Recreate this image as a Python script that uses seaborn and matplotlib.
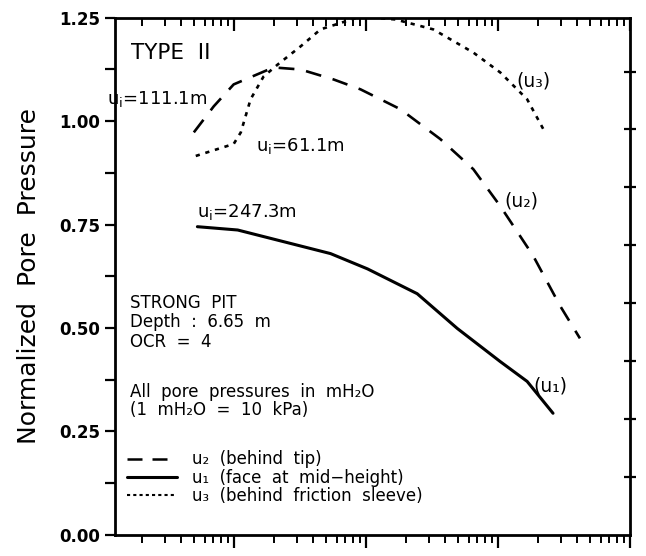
import numpy as np
import pandas as pd
import matplotlib
matplotlib.use("Agg")
import matplotlib.pyplot as plt
import seaborn as sns
from matplotlib.lines import Line2D
from matplotlib.ticker import LogLocator, NullFormatter, MultipleLocator, FixedLocator

sns.set_style("ticks")
plt.rcParams['font.family'] = ['DejaVu Sans']
plt.rcParams['mathtext.default'] = 'regular'
for k in ["text.color", "axes.labelcolor", "xtick.color", "ytick.color", "axes.edgecolor"]:
    plt.rcParams[k] = "black"

# ---- data ----
u1_x = [5.3, 10.7, 54, 103, 245, 493, 1042, 1667, 2618]
u1_y = [0.745, 0.737, 0.680, 0.643, 0.583, 0.499, 0.419, 0.371, 0.294]

u2_x = [4.98, 7.05, 9.98, 20.0, 32.1, 56.9, 91.2, 182.8, 366, 652, 1042, 1849, 2958, 4188]
u2_y = [0.973, 1.036, 1.089, 1.130, 1.125, 1.101, 1.077, 1.029, 0.957, 0.884, 0.795, 0.675, 0.554, 0.475]

u3_x = [5.15, 9.98, 11.3, 13.4, 16.8, 21.5, 32.1, 45.4, 91.2, 167.5, 324, 652, 1042, 1667, 2280]
u3_y = [0.916, 0.945, 0.973, 1.053, 1.108, 1.137, 1.181, 1.222, 1.253, 1.246, 1.222, 1.166, 1.118, 1.053, 0.973]

y_ticks = [0.00, 0.25, 0.50, 0.75, 1.00, 1.25]
y_tick_labels = ["0.00", "0.25", "0.50", "0.75", "1.00", "1.25"]
legend_labels = ["u₂  (behind  tip)", "u₁  (face  at  mid\u2212height)", "u₃  (behind  friction  sleeve)"]

df = pd.concat([
    pd.DataFrame({"x": u1_x, "y": u1_y, "s": "u1"}),
    pd.DataFrame({"x": u2_x, "y": u2_y, "s": "u2"}),
    pd.DataFrame({"x": u3_x, "y": u3_y, "s": "u3"}),
])

fig = plt.figure(figsize=(6.46, 5.56), dpi=100)
ax = fig.add_axes([0.178, 0.038, 0.797, 0.930])

styles = {"u1": dict(linestyle="-", linewidth=2.2),
          "u2": dict(linestyle=(0, (6, 4.5)), linewidth=1.9),
          "u3": dict(linestyle=(0, (1.6, 2.2)), linewidth=1.9)}
for s, sub in df.groupby("s"):
    sns.lineplot(data=sub, x="x", y="y", ax=ax, color="black", estimator=None,
                 legend=False, **styles[s])

ax.set_xscale("log")
ax.set_xlim(10 ** 0.1, 1e4)
ax.set_ylim(0, 1.25)
ax.set_xlabel("")
ax.set_ylabel("Normalized  Pore  Pressure", fontsize=18, labelpad=13)

for sp in ax.spines.values():
    sp.set_linewidth(2.0)
    sp.set_visible(True)

ax.set_yticks(y_ticks)
ax.set_yticklabels(y_tick_labels, fontsize=12, fontweight="bold")
ax.yaxis.set_minor_locator(MultipleLocator(0.125))
ax.tick_params(axis="y", which="both", direction="out", length=7, width=1.6, left=True, right=False)

ax.xaxis.set_major_locator(LogLocator(base=10))
ax.xaxis.set_minor_locator(LogLocator(base=10, subs=np.arange(2, 10)))
ax.xaxis.set_minor_formatter(NullFormatter())
ax.tick_params(axis="x", which="major", direction="out", length=9, width=1.6, labelbottom=False)
ax.tick_params(axis="x", which="minor", direction="out", length=6, width=1.4)

# top ticks (inward)
axt = ax.twiny()
axt.set_xscale("log")
axt.set_xlim(ax.get_xlim())
axt.xaxis.set_major_locator(LogLocator(base=10))
axt.xaxis.set_minor_locator(LogLocator(base=10, subs=np.arange(2, 10)))
axt.xaxis.set_minor_formatter(NullFormatter())
axt.tick_params(axis="x", which="major", direction="in", length=9, width=1.6, labeltop=False)
axt.tick_params(axis="x", which="minor", direction="in", length=6, width=1.4)
for sp in axt.spines.values():
    sp.set_visible(False)

# right ticks
axr = ax.twinx()
axr.set_ylim(0, 1.25)
axr.yaxis.set_major_locator(FixedLocator(np.arange(0.14, 1.24, 0.14)))
axr.tick_params(axis="y", direction="inout", length=8, width=1.6, labelright=False)
for sp in axr.spines.values():
    sp.set_visible(False)

# annotations
ax.text(10 ** 0.22, 1.166, "TYPE  II", fontsize=15.5, va="center", ha="left")
ax.text(10 ** 0.04, 1.053, "u$_i$=111.1m", fontsize=13, va="center", ha="left")
ax.text(10 ** 1.17, 0.94, "u$_i$=61.1m", fontsize=13, va="center", ha="left")
ax.text(10 ** 0.725, 0.78, "u$_i$=247.3m", fontsize=13, va="center", ha="left")
ax.text(10 ** 3.14, 1.096, "(u₃)", fontsize=13.5, va="center", ha="left")
ax.text(10 ** 3.05, 0.807, "(u₂)", fontsize=13.5, va="center", ha="left")
ax.text(10 ** 3.27, 0.361, "(u₁)", fontsize=13.5, va="center", ha="left")

ax.text(0.03, 0.466, "STRONG  PIT\nDepth  :  6.65  m\nOCR  =  4", transform=ax.transAxes,
        fontsize=12, va="top", ha="left", linespacing=1.1)
ax.text(0.03, 0.293, "All  pore  pressures  in  mH₂O\n(1  mH₂O  =  10  kPa)", transform=ax.transAxes,
        fontsize=12, va="top", ha="left", linespacing=0.95)

handles = [Line2D([], [], color="black", linestyle=(0, (6, 4)), linewidth=1.8),
           Line2D([], [], color="black", linestyle="-", linewidth=2.2),
           Line2D([], [], color="black", linestyle=(0, (1.5, 1.5)), linewidth=1.5)]
ax.legend(handles, legend_labels, loc="lower left", bbox_to_anchor=(0.0, 0.035),
          frameon=False, fontsize=12, handlelength=3.0, handletextpad=0.95,
          labelspacing=0.02, borderaxespad=0.3)

fig.savefig("out.png", dpi=100)
